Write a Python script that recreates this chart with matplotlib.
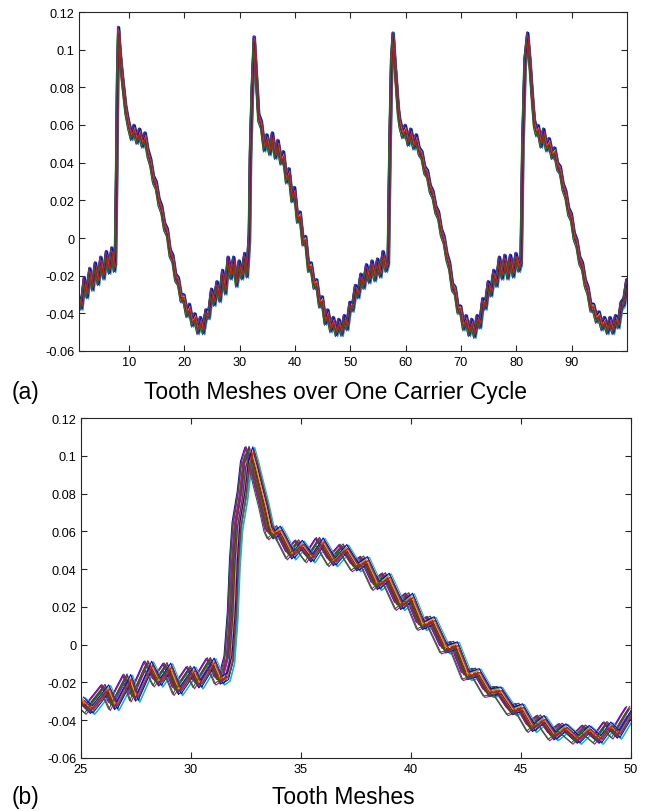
import numpy as np
import matplotlib
matplotlib.use("Agg")
import matplotlib.pyplot as plt

plt.rcParams["font.family"] = ["Liberation Sans", "DejaVu Sans"]

# ---- (a) displacement over one full carrier cycle ----
mesh_a = [
    1.0, 1.5, 2.0, 2.5, 3.0, 3.5, 4.0, 4.5, 5.0, 5.5, 6.0, 6.5, 7.0, 7.4, 7.6,
    7.8, 8.0, 8.2, 8.4, 8.6, 8.9, 9.2, 9.5, 10.0, 10.5, 11.0, 11.5, 12.0, 12.5,
    13.0, 13.5, 14.0, 14.5, 15.0, 15.5, 16.0, 16.5, 17.0, 17.5, 18.0, 18.5,
    19.0, 19.5, 20.0, 20.5, 21.0, 21.5, 22.0, 22.5, 23.0, 23.5, 24.0, 24.5,
    25.0, 25.5, 26.0, 26.5, 27.0, 27.5, 28.0, 28.5, 29.0, 29.5, 30.0, 30.5,
    31.0, 31.4, 31.8, 32.0, 32.3, 32.7, 33.0, 33.5, 34.0, 34.5, 35.0, 35.5,
    36.0, 36.5, 37.0, 37.5, 38.0, 38.5, 39.0, 39.5, 40.0, 40.5, 41.0, 41.5,
    42.0, 42.5, 43.0, 43.5, 44.0, 44.5, 45.0, 45.5, 46.0, 46.5, 47.0, 47.5,
    48.0, 48.5, 49.0, 49.5, 50.0, 50.5, 51.0, 51.5, 52.0, 52.5, 53.0, 53.5,
    54.0, 54.5, 55.0, 55.5, 56.0, 56.5, 56.9, 57.2, 57.5, 57.8, 58.1, 58.4,
    58.7, 59.0, 59.5, 60.0, 60.5, 61.0, 61.5, 62.0, 62.5, 63.0, 63.5, 64.0,
    64.5, 65.0, 65.5, 66.0, 66.5, 67.0, 67.5, 68.0, 68.5, 69.0, 69.5, 70.0,
    70.5, 71.0, 71.5, 72.0, 72.5, 73.0, 73.5, 74.0, 74.5, 75.0, 75.5, 76.0,
    76.5, 77.0, 77.5, 78.0, 78.5, 79.0, 79.5, 80.0, 80.5, 80.9, 81.2, 81.6,
    82.1, 82.5, 82.9, 83.3, 83.7, 84.0, 84.5, 85.0, 85.5, 86.0, 86.5, 87.0,
    87.5, 88.0, 88.5, 89.0, 89.5, 90.0, 90.5, 91.0, 91.5, 92.0, 92.5, 93.0,
    93.5, 94.0, 94.5, 95.0, 95.5, 96.0, 96.5, 97.0, 97.5, 98.0, 98.5, 99.0,
    99.5, 100.0,
]
disp_a = [
    -0.033, -0.036, -0.023, -0.030, -0.018, -0.026, -0.015, -0.023, -0.012,
    -0.020, -0.009, -0.017, -0.007, -0.016, -0.012,
    0.030, 0.085, 0.110, 0.100, 0.093, 0.084, 0.076, 0.068, 0.060, 0.054,
    0.058, 0.052, 0.056, 0.050, 0.054, 0.045, 0.040, 0.031, 0.028, 0.019,
    0.015, 0.006, 0.003, -0.008, -0.011, -0.021, -0.023, -0.032, -0.032,
    -0.040, -0.037, -0.045, -0.042, -0.049, -0.044, -0.049, -0.040, -0.041,
    -0.029, -0.034, -0.025, -0.032, -0.019, -0.028, -0.012, -0.020, -0.012,
    -0.024, -0.014, -0.020, -0.010, -0.019, 0.000, 0.044, 0.076, 0.105,
    0.090, 0.064, 0.060, 0.048, 0.053, 0.046, 0.054, 0.044, 0.050, 0.041,
    0.044, 0.031, 0.035, 0.021, 0.025, 0.010, 0.012, -0.002, -0.001, -0.016,
    -0.015, -0.025, -0.024, -0.035, -0.033, -0.044, -0.040, -0.048, -0.044,
    -0.050, -0.045, -0.050, -0.043, -0.047, -0.036, -0.037, -0.027, -0.030,
    -0.021, -0.025, -0.016, -0.022, -0.014, -0.021, -0.013, -0.019, -0.009,
    -0.016, -0.012, 0.049, 0.093, 0.107, 0.093, 0.081, 0.068, 0.061, 0.055,
    0.058, 0.051, 0.056, 0.049, 0.053, 0.046, 0.044, 0.036, 0.034, 0.026,
    0.023, 0.015, 0.012, 0.003, -0.001, -0.010, -0.015, -0.026, -0.028,
    -0.038, -0.038, -0.047, -0.043, -0.050, -0.045, -0.051, -0.043, -0.046,
    -0.034, -0.036, -0.025, -0.029, -0.019, -0.024, -0.012, -0.020, -0.011,
    -0.020, -0.011, -0.019, -0.010, -0.016, -0.012, 0.049, 0.093, 0.107,
    0.093, 0.076, 0.061, 0.056, 0.058, 0.050, 0.056, 0.048, 0.051, 0.044,
    0.046, 0.038, 0.036, 0.027, 0.023, 0.014, 0.011, 0.001, -0.003, -0.012,
    -0.015, -0.024, -0.028, -0.037, -0.037, -0.043, -0.041, -0.047, -0.044,
    -0.049, -0.044, -0.049, -0.043, -0.046, -0.036, -0.034, -0.024,
]

# ---- (b) close-up of a single tooth-mesh passage ----
mesh_b = [
    25.0, 25.4, 26.15, 26.5, 27.15, 27.45, 28.1, 28.5, 28.97, 29.4, 30.03,
    30.33, 30.94, 31.3, 31.55, 31.75, 31.9, 32.0, 32.12, 32.35, 32.5, 32.7,
    32.88, 33.1, 33.33, 33.56, 33.7, 33.95, 34.17, 34.55, 34.95, 35.42, 35.9,
    36.44, 36.97, 37.5, 37.91, 38.44, 38.9, 39.5, 39.96, 40.49, 40.94, 41.55,
    42.0, 42.54, 42.99, 43.52, 43.97, 44.58, 44.96, 45.49, 45.94, 46.47,
    46.93, 47.53, 47.99, 48.52, 48.97, 49.35, 49.8, 50.0,
]
disp_b = [
    -0.030, -0.0345, -0.0235, -0.0325, -0.018, -0.028, -0.011, -0.020,
    -0.012, -0.0245, -0.0138, -0.021, -0.0093, -0.019, -0.017, -0.008,
    0.015, 0.043, 0.063, 0.079, 0.095, 0.1025, 0.095, 0.0844, 0.0738,
    0.0614, 0.0579, 0.0605, 0.056, 0.0473, 0.053, 0.0457, 0.0543, 0.0437,
    0.0508, 0.041, 0.0444, 0.0311, 0.0356, 0.0205, 0.025, 0.0099, 0.0126,
    -0.0025, -0.0007, -0.0166, -0.0149, -0.0255, -0.0246, -0.0352, -0.0335,
    -0.0441, -0.0397, -0.0485, -0.0441, -0.0503, -0.045, -0.0503, -0.0432,
    -0.0476, -0.0388, -0.0352,
]

# phase offsets of the overlaid runs (x in tooth meshes, y in displacement)
run_dx = [-0.25, 0.06, -0.15, 0.21, -0.04, 0.12, -0.20, 0.03, 0.18, -0.10,
          0.24, -0.22, 0.09, -0.06, 0.15, -0.12, 0.00, 0.20, -0.17, 0.05,
          -0.01, 0.11, -0.24, 0.16]
run_dy = [0.0020, -0.0014, 0.0007, -0.0025, 0.0015, -0.0005, 0.0024,
          -0.0019, 0.0003, 0.0012, -0.0022, 0.0017, -0.0009, 0.0025, -0.0015,
          0.0005, -0.0003, 0.0019, -0.0024, 0.0010, -0.0012, 0.0022, -0.0017,
          0.0002]

yticks = [-0.06, -0.04, -0.02, 0, 0.02, 0.04, 0.06, 0.08, 0.1, 0.12]
xticks_a = [10, 20, 30, 40, 50, 60, 70, 80, 90]
xticks_b = [25, 30, 35, 40, 45, 50]

matlab_colors = [(0, 0, 1), (0, 0.5, 0), (1, 0, 0), (0, 0.75, 0.75),
                 (0.75, 0, 0.75), (0.75, 0.75, 0), (0.25, 0.25, 0.25)]

W, H = 647, 812
fig = plt.figure(figsize=(W / 100, H / 100), dpi=100)
ax_a = fig.add_axes([79 / W, 1 - 352 / H, (627 - 79) / W, (352 - 13) / H])
ax_b = fig.add_axes([81 / W, 1 - 759 / H, (631 - 81) / W, (759 - 419) / H])


def fmt(v):
    return f"{v:g}"


def draw(ax, xs, ys, xlim, xticks, lw):
    xs = np.asarray(xs)
    ys = np.asarray(ys)
    for i, (dx, dy) in enumerate(zip(run_dx, run_dy)):
        ax.plot(xs + dx, ys + dy, color=matlab_colors[i % 7], lw=lw)
    ax.set_xlim(*xlim)
    ax.set_ylim(-0.06, 0.12)
    ax.set_xticks(xticks)
    ax.set_xticklabels([fmt(t) for t in xticks])
    ax.set_yticks(yticks)
    ax.set_yticklabels([fmt(t) for t in yticks])
    ax.tick_params(direction="in", top=True, right=True, length=4,
                   width=0.8, labelsize=9.2, pad=3.5, colors="#262626",
                   labelcolor="black")
    for sp in ax.spines.values():
        sp.set_linewidth(0.8)
        sp.set_color("#262626")


draw(ax_a, mesh_a, disp_a, (1, 100), xticks_a, 0.7)
draw(ax_b, mesh_b, disp_b, (25, 50), xticks_b, 0.8)

fig.text(12 / W, 1 - 399 / H, "(a)", fontsize=16.5, va="baseline", ha="left")
fig.text(335 / W, 1 - 399 / H, "Tooth Meshes over One Carrier Cycle",
         fontsize=16.5, va="baseline", ha="center")
fig.text(12 / W, 1 - 804 / H, "(b)", fontsize=16.5, va="baseline", ha="left")
fig.text(343 / W, 1 - 804 / H, "Tooth Meshes", fontsize=16.5,
         va="baseline", ha="center")

fig.savefig("out.png", dpi=100)
